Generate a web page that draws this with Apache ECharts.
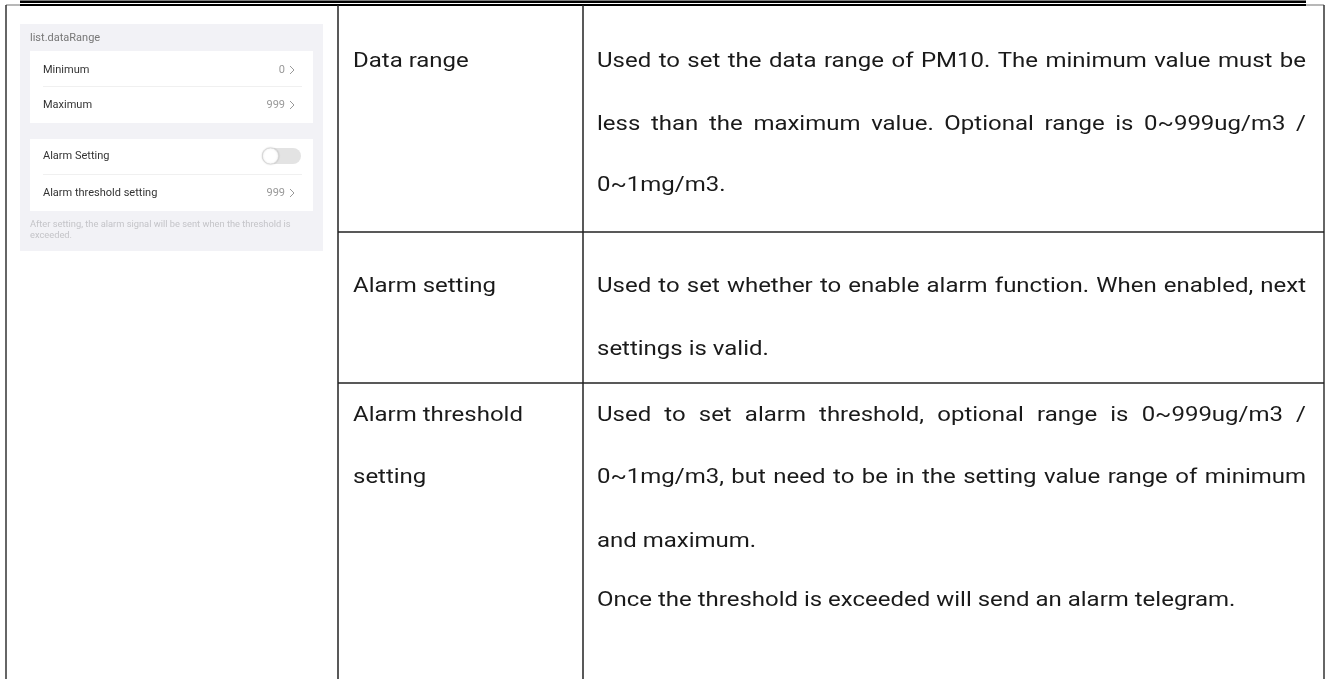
<!DOCTYPE html>
<html><head><meta charset="utf-8">
<script src="https://cdn.jsdelivr.net/npm/echarts@6/dist/echarts.min.js"></script>
<style>html,body{margin:0;padding:0;background:#fff}#c{width:1327px;height:679px}</style>
</head><body><div id="c"></div>
<script>
// ---- content ----
const panelTitle = 'list.dataRange';
const settingNames = ['Minimum', 'Maximum', 'Alarm Setting', 'Alarm threshold setting'];
const settingValues = ['0', '999', null, '999'];
const panelNote = ['After setting, the alarm signal will be sent when the threshold is', 'exceeded.'];
const rowLabels = [['Data range'], ['Alarm setting'], ['Alarm threshold', 'setting']];
const rowDescriptions = [
  ['Used to set the data range of PM10. The minimum value must be',
   'less than the maximum value. Optional range is 0~999ug/m3 /',
   '0~1mg/m3.'],
  ['Used to set whether to enable alarm function. When enabled, next',
   'settings is valid.'],
  ['Used to set alarm threshold, optional range is 0~999ug/m3 /',
   '0~1mg/m3, but need to be in the setting value range of minimum',
   'and maximum.',
   'Once the threshold is exceeded will send an alarm telegram.']
];
const rowJustify = [[true, true, false], [true, false], [true, true, false, false]];

// ---- layout ----
const FONT = '20.5px Roboto';
const SX = 1.17;
const col1 = 338, col2 = 583, leftX = 6, rightX = 1324;
const rowTops = [5, 232, 383];
const labelY = [[62], [287], [416, 478]];
const descY = [[62, 125, 186], [287, 350], [416, 478, 542, 601]];
const descX0 = 597, descX1 = 1306;

const ctx = document.createElement('canvas').getContext('2d');
ctx.font = FONT;
const els = [];
const txt = (x, y, s, font, fill, align) => els.push({type: 'text', style: {x, y, text: s, font, fill, textAlign: align || 'left', textVerticalAlign: 'middle'}});
const btxt = (x, y, s) => els.push({type: 'text', x, y, scaleX: SX, style: {x: 0, y: 0, text: s, font: FONT, fill: '#1a1a1a', textAlign: 'left', textVerticalAlign: 'middle'}});
const line = (x1, y1, x2, y2, w, c) => els.push({type: 'line', shape: {x1, y1, x2, y2}, style: {stroke: c || '#222', lineWidth: w || 1.5}});

// header double rule
els.push({type: 'rect', shape: {x: 20, y: 0.5, width: 1286, height: 2.5}, style: {fill: '#000'}});
els.push({type: 'rect', shape: {x: 20, y: 4, width: 1286, height: 2}, style: {fill: '#000'}});
// table borders
line(leftX, 5, 20, 5, 1.2, '#888');
line(1306, 5, rightX, 5, 1.2, '#888');
line(leftX, 5, leftX, 679, 1.5, '#333');
line(rightX, 5, rightX, 679, 1.5, '#333');
line(col1, 5, col1, 679, 1.5, '#222');
line(col2, 5, col2, 679, 1.5, '#222');
line(col1, rowTops[1], rightX, rowTops[1], 1.5, '#222');
line(col1, rowTops[2], rightX, rowTops[2], 1.5, '#222');

// labels
rowLabels.forEach((ls, r) => ls.forEach((s, i) => btxt(353, labelY[r][i], s)));
// descriptions (justified)
rowDescriptions.forEach((ls, r) => ls.forEach((s, i) => {
  const y = descY[r][i];
  if (!rowJustify[r][i]) { btxt(descX0, y, s); return; }
  const words = s.split(' ');
  const widths = words.map(w => ctx.measureText(w).width * SX);
  const total = widths.reduce((a, b) => a + b, 0);
  const gap = (descX1 - descX0 - total) / (words.length - 1);
  let x = descX0;
  words.forEach((w, k) => { btxt(x, y, w); x += widths[k] + gap; });
}));

// app screenshot panel
const SF = '11px Roboto';
els.push({type: 'rect', shape: {x: 20, y: 24, width: 303, height: 227}, style: {fill: '#f2f2f6'}});
txt(30, 38, panelTitle, SF, '#777');
els.push({type: 'rect', shape: {x: 30, y: 51, width: 283, height: 72}, style: {fill: '#fff'}});
els.push({type: 'rect', shape: {x: 30, y: 139, width: 283, height: 72}, style: {fill: '#fff'}});
line(43, 86.5, 302, 86.5, 1, '#f0f0f0');
line(43, 174.5, 302, 174.5, 1, '#f0f0f0');
const itemY = [70, 105, 156, 193];
settingNames.forEach((s, i) => {
  txt(43, itemY[i], s, SF, '#333');
  if (settingValues[i] !== null) {
    txt(285, itemY[i], settingValues[i], SF, '#999', 'right');
    els.push({type: 'polyline', shape: {points: [[290, itemY[i] - 4], [294, itemY[i]], [290, itemY[i] + 4]]}, style: {stroke: '#999', lineWidth: 1, fill: null}});
  }
});
// toggle
els.push({type: 'rect', shape: {x: 262, y: 148, width: 39, height: 16, r: 8}, style: {fill: '#e3e3e3'}});
els.push({type: 'circle', shape: {cx: 270.5, cy: 156, r: 8}, style: {fill: '#fff', stroke: '#d8d8d8', lineWidth: 0.6, shadowBlur: 2, shadowColor: 'rgba(0,0,0,0.2)'}});
txt(30, 225, panelNote[0], '9.3px Roboto', '#c4c4c8');
txt(30, 236, panelNote[1], '9.3px Roboto', '#c4c4c8');

const chart = echarts.init(document.getElementById('c'), null, {renderer: 'canvas'});
chart.setOption({animation: false, graphic: {elements: els}});
</script></body></html>
